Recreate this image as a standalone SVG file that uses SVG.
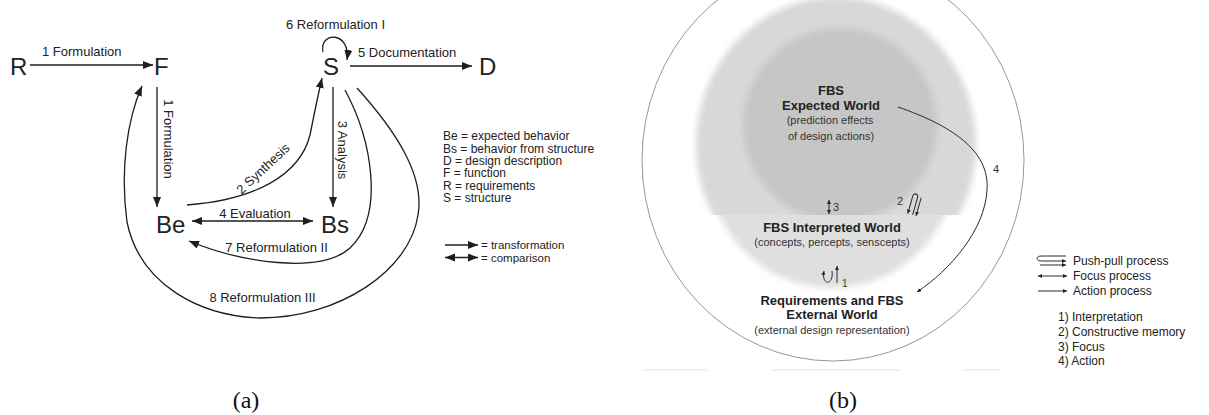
<svg xmlns="http://www.w3.org/2000/svg" width="1209" height="415" viewBox="0 0 1209 415">
<style>
text{font-family:"Liberation Sans",Arial,sans-serif;fill:#222}
.node{font-size:24px}
.lbl{font-size:13px}
.leg{font-size:12px}
.leg2{font-size:11.5px}
.cap{font-family:"Liberation Serif","Times New Roman",serif;font-size:24px;fill:#111}
.ln{fill:none;stroke:#1e1e1e;stroke-width:1.3}
.thin{fill:none;stroke:#2a2a2a;stroke-width:1}
.b{font-size:13px;font-weight:bold}
.s{font-size:11px;fill:#333}
</style>
<defs>
<marker id="arr" markerUnits="userSpaceOnUse" markerWidth="11" markerHeight="9" refX="10" refY="4" orient="auto-start-reverse" viewBox="0 0 11 9">
<path d="M0,0 L10,4 L0,8 z" fill="#1e1e1e"/>
</marker>
<marker id="sa" markerUnits="userSpaceOnUse" markerWidth="5" markerHeight="5" refX="4" refY="2" orient="auto-start-reverse" viewBox="0 0 5 5">
<path d="M0,0 L4,2 L0,4 z" fill="#222"/>
</marker>
<filter id="soft" x="-10%" y="-10%" width="120%" height="120%"><feGaussianBlur stdDeviation="3"/></filter>
<clipPath id="upper"><rect x="600" y="0" width="450" height="215"/></clipPath>
<clipPath id="lower"><rect x="600" y="215" width="450" height="200"/></clipPath>
</defs>
<rect width="1209" height="415" fill="#fff"/>

<!-- Panel (a) -->
<g id="connectors-a">
<path class="ln" d="M30,65 L153,65" marker-end="url(#arr)"/>
<path class="ln" d="M350,66 L472,66" marker-end="url(#arr)"/>
<path class="ln" d="M323,52 C319,31 351,31 347,60" marker-end="url(#arr)"/>
<path class="ln" d="M157,87 L157,207" marker-end="url(#arr)"/>
<path class="ln" d="M333,87 L333,207" marker-end="url(#arr)"/>
<path class="ln" d="M192,221 L313,221" marker-start="url(#arr)" marker-end="url(#arr)"/>
<path class="ln" d="M187,205 C255,200 300,175 310,135 C314,115 318,95 322,78" marker-end="url(#arr)"/>
<path class="ln" d="M345,90 C372,140 385,215 350,248 C320,275 240,262 189,241" marker-end="url(#arr)"/>
<path class="ln" d="M357,88 C395,130 425,175 418,215 C410,270 340,318 260,318 C200,316 140,285 127,222 C120,170 127,120 142,86" marker-end="url(#arr)"/>
</g>
<g id="conn-labels-a">
<text class="lbl" x="42" y="56">1 Formulation</text>
<text class="lbl" x="335.5" y="29" text-anchor="middle">6 Reformulation I</text>
<text class="lbl" x="358" y="57">5 Documentation</text>
<text class="lbl" transform="translate(164,139) rotate(90)" text-anchor="middle">1 Formulation</text>
<text class="lbl" transform="translate(338,150) rotate(90)" text-anchor="middle">3 Analysis</text>
<text class="lbl" x="255" y="218" text-anchor="middle">4 Evaluation</text>
<text class="lbl" transform="translate(266,172) rotate(-43)" text-anchor="middle">2 Synthesis</text>
<text class="lbl" x="276.5" y="252" text-anchor="middle">7 Reformulation II</text>
<text class="lbl" x="262.5" y="302" text-anchor="middle">8 Reformulation III</text>
</g>
<g id="node-R"><text class="node" x="10" y="75">R</text></g>
<g id="node-F"><text class="node" x="154" y="75">F</text></g>
<g id="node-S"><text class="node" x="323" y="75">S</text></g>
<g id="node-D"><text class="node" x="479" y="75">D</text></g>
<g id="node-Be"><text class="node" x="156" y="233">Be</text></g>
<g id="node-Bs"><text class="node" x="321" y="233">Bs</text></g>
<g id="legend-a">
<text class="leg" x="443" y="140">Be = expected behavior</text>
<text class="leg" x="443" y="152.5">Bs = behavior from structure</text>
<text class="leg" x="443" y="165">D = design description</text>
<text class="leg" x="443" y="177">F = function</text>
<text class="leg" x="443" y="189.5">R = requirements</text>
<text class="leg" x="443" y="202">S = structure</text>
<path class="ln" d="M445,245 L478,245" marker-end="url(#arr)"/>
<text class="leg2" x="481" y="249">= transformation</text>
<path class="ln" d="M445,257.5 L478,257.5" marker-start="url(#arr)" marker-end="url(#arr)"/>
<text class="leg2" x="481" y="261.5">= comparison</text>
</g>
<text class="cap" x="246" y="408" text-anchor="middle">(a)</text>

<!-- Panel (b) -->
<g id="worlds-bg">
<g clip-path="url(#lower)"><ellipse cx="832" cy="160" rx="125" ry="128" fill="#dfdfdf" filter="url(#soft)"/></g>
<g clip-path="url(#upper)">
<ellipse cx="836" cy="145" rx="140" ry="148" fill="#d8d8d8" filter="url(#soft)"/>
<circle cx="840" cy="125" r="97" fill="#c6c6c6" filter="url(#soft)"/>
</g>
<ellipse cx="833" cy="160" rx="191" ry="201" fill="none" stroke="#8a8a8a" stroke-width="0.9"/>
<path d="M643,370 H707 M772,370 H900 M963,370 H1000" stroke="#e2e2e2" stroke-width="1"/>
</g>
<g id="node-expected">
<text class="b" x="831" y="95" text-anchor="middle">FBS</text>
<text class="b" x="831" y="110" text-anchor="middle">Expected World</text>
<text class="s" x="830" y="124" text-anchor="middle">(prediction effects</text>
<text class="s" x="831" y="140" text-anchor="middle">of design actions)</text>
</g>
<g id="node-interpreted">
<text class="b" x="832" y="232" text-anchor="middle">FBS Interpreted World</text>
<text class="s" x="832" y="246" text-anchor="middle">(concepts, percepts, senscepts)</text>
</g>
<g id="node-external">
<text class="b" x="832" y="305" text-anchor="middle">Requirements and FBS</text>
<text class="b" x="832" y="319" text-anchor="middle">External World</text>
<text class="s" x="832" y="334" text-anchor="middle">(external design representation)</text>
</g>
<g id="connectors-b">
<path class="thin" d="M898,107 C950,125 990,150 987,190 C985,230 950,270 917,292" marker-end="url(#sa)"/>
<text class="s" x="993" y="173" fill="#222">4</text>
<path class="thin" d="M829,200 L829,214" marker-start="url(#sa)" marker-end="url(#sa)"/>
<text class="s" x="833" y="211">3</text>
<g transform="translate(916,194) rotate(106)">
<path class="thin" d="M21,-2.5 L3,-2.5 Q0,-2.5 0,0 Q0,2.5 3,2.5 L21,2.5" marker-end="url(#sa)"/>
<path class="thin" d="M2,-6 L21,-6" marker-end="url(#sa)"/>
</g>
<text class="s" x="897" y="205">2</text>
<path class="thin" d="M824,271 C821,286 834,286 832,271" marker-start="url(#sa)"/>
<path class="thin" d="M837,283 L837,266" marker-end="url(#sa)"/>
<text class="s" x="842" y="287" style="font-size:10px">1</text>
</g>
<g id="legend-b">
<path class="thin" d="M1066,256 L1042,256 Q1037,256 1037,258.5 Q1037,261 1042,261 L1066,261" marker-end="url(#sa)"/>
<path class="thin" d="M1040,265 L1066,265" marker-end="url(#sa)"/>
<text class="leg" x="1073" y="265">Push-pull process</text>
<path class="thin" d="M1038,276 L1067,276" marker-start="url(#sa)" marker-end="url(#sa)"/>
<text class="leg" x="1073" y="280">Focus process</text>
<path class="thin" d="M1038,291 L1067,291" marker-end="url(#sa)"/>
<text class="leg" x="1073" y="295">Action process</text>
<text class="leg" x="1058" y="321">1) Interpretation</text>
<text class="leg" x="1058" y="335.5">2) Constructive memory</text>
<text class="leg" x="1058" y="350.5">3) Focus</text>
<text class="leg" x="1058" y="365">4) Action</text>
</g>
<text class="cap" x="843" y="408" text-anchor="middle">(b)</text>
</svg>
